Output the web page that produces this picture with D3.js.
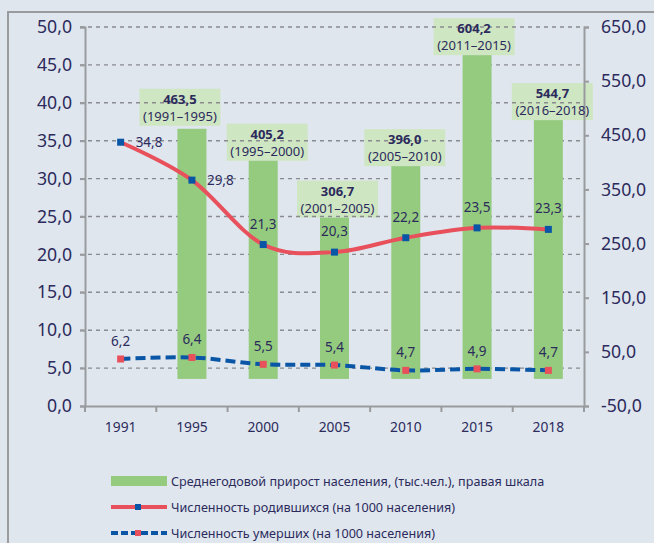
<!DOCTYPE html>
<html>
<head>
<meta charset="utf-8">
<script src="https://cdn.jsdelivr.net/npm/d3@7"></script>
<style>
  body { margin: 0; background: #dfe6ee; }
  svg { display: block; font-family: "Noto Sans", sans-serif; }
</style>
</head>
<body>
<svg width="654" height="543"></svg>
<script>
// datos
var anios = ['1991', '1995', '2000', '2005', '2010', '2015', '2018'];
var nacimientos = [34.8, 29.8, 21.3, 20.3, 22.2, 23.5, 23.3];
var defunciones = [6.2, 6.4, 5.5, 5.4, 4.7, 4.9, 4.7];
var posNacim = ['right', 'right', 'above', 'above', 'above', 'above', 'above'];
var barAnios = ['1995', '2000', '2005', '2010', '2015', '2018'];
var barValores = [462, 403, 298, 393, 598, 478];
var barEtiquetas = ['463,5', '405,2', '306,7', '396,0', '604,2', '544,7'];
var barPeriodos = ['(1991–1995)', '(1995–2000)', '(2001–2005)', '(2005–2010)', '(2011–2015)', '(2016–2018)'];
var ticksIzq = [0, 5, 10, 15, 20, 25, 30, 35, 40, 45, 50];
var ticksDer = [-50, 50, 150, 250, 350, 450, 550, 650];
var leyenda = [
  'Среднегодовой прирост населения, (тыс.чел.), правая шкала',
  'Численность родившихся (на 1000 населения)',
  'Численность умерших (на 1000 населения)'
];

// desplazamiento manual de las cajas de etiquetas (como en el original)
var ajusteCaja = [[-12, -3], [4, 0], [3, 0], [-1, 0], [-3, 0], [4, 0]];

var colTexto = '#2c2b5c', colGris = '#9a9b9e', colBarra = '#95cb7f', colCaja = '#cfe6c3';
var colRojo = '#e8505b', colAzul = '#0a56a6';

var svg = d3.select('svg'),
    margin = {top: 27, right: 70, bottom: 137, left: 85},
    width = +svg.attr('width') - margin.left - margin.right,
    height = +svg.attr('height') - margin.top - margin.bottom;

function fmt(v) { return d3.format('.1f')(v).replace('.', ',').replace('−', '-'); }

// marco
svg.append('path')
    .attr('d', 'M8,543 V12 H654')
    .attr('fill', 'none')
    .attr('stroke', colGris)
    .attr('stroke-width', 2);

var g = svg.append('g').attr('transform', 'translate(' + margin.left + ',' + margin.top + ')');

var x = d3.scaleBand().domain(anios).range([0, width]).padding(0);
var yIzq = d3.scaleLinear().domain([0, 50]).range([height, 0]);
var yDer = d3.scaleLinear().domain([-50, 650]).range([height, 0]);

var centroBarra = function(i) { return x(barAnios[i]) + x.bandwidth() / 2; };

// cajas de etiquetas de las barras
var cajaW = 81, cajaH = 37;
g.selectAll('.caja')
  .data(barValores)
  .enter().append('rect')
    .attr('x', function(d, i) { return centroBarra(i) + ajusteCaja[i][0] - cajaW / 2; })
    .attr('y', function(d, i) { return yDer(d) - cajaH + ajusteCaja[i][1]; })
    .attr('width', cajaW)
    .attr('height', cajaH)
    .attr('fill', colCaja);

// lineas de cuadricula
g.selectAll('.grid')
  .data(ticksIzq.filter(function(t) { return t > 0; }))
  .enter().append('line')
    .attr('x1', -5).attr('x2', width)
    .attr('y1', function(d) { return yIzq(d); })
    .attr('y2', function(d) { return yIzq(d); })
    .attr('stroke', '#8a8b90')
    .attr('stroke-width', 1.4)
    .attr('stroke-dasharray', '4,4');

// barras
var barW = 29;
g.selectAll('.barra')
  .data(barValores)
  .enter().append('rect')
    .attr('x', function(d, i) { return centroBarra(i) - barW / 2; })
    .attr('y', function(d) { return yDer(d); })
    .attr('width', barW)
    .attr('height', function(d) { return yDer(0) - yDer(d); })
    .attr('fill', colBarra);

// ejes
var ejeIzq = g.append('g')
    .call(d3.axisLeft(yIzq).tickValues(ticksIzq).tickSize(5).tickPadding(8).tickFormat(fmt));
var ejeDer = g.append('g')
    .attr('transform', 'translate(' + width + ',0)')
    .call(d3.axisRight(yDer).tickValues(ticksDer).tickSize(5).tickPadding(12).tickFormat(fmt));
var ejeX = g.append('g')
    .attr('transform', 'translate(0,' + height + ')')
    .call(d3.axisBottom(x).tickSize(0).tickPadding(16));

// marcas entre categorias
g.selectAll('.sep')
  .data(d3.range(anios.length + 1))
  .enter().append('line')
    .attr('x1', function(i) { return i * x.bandwidth(); })
    .attr('x2', function(i) { return i * x.bandwidth(); })
    .attr('y1', height).attr('y2', height + 6)
    .attr('stroke', colGris).attr('stroke-width', 2);

[ejeIzq, ejeDer, ejeX].forEach(function(e) {
  e.select('.domain').attr('stroke', colGris).attr('stroke-width', 2);
  e.selectAll('.tick line').attr('stroke', colGris).attr('stroke-width', 2);
  e.selectAll('text').attr('fill', colTexto).attr('font-family', '"Noto Sans", sans-serif');
});
ejeIzq.selectAll('text').attr('font-size', 17.7);
ejeDer.selectAll('text').attr('font-size', 17.7);
ejeX.selectAll('text').attr('font-size', 13.8);

// lineas
var cx = function(d, i) { return x(anios[i]) + x.bandwidth() / 2; };
var linea = d3.line()
    .x(cx)
    .curve(d3.curveCardinal.tension(0));

g.append('path')
    .datum(defunciones)
    .attr('d', linea.y(function(d) { return yIzq(d); }))
    .attr('fill', 'none')
    .attr('stroke', colAzul)
    .attr('stroke-width', 4)
    .attr('stroke-dasharray', '10,5');

g.append('path')
    .datum(nacimientos)
    .attr('d', linea.y(function(d) { return yIzq(d); }))
    .attr('fill', 'none')
    .attr('stroke', colRojo)
    .attr('stroke-width', 4);

var m = 7;
g.selectAll('.mNac')
  .data(nacimientos)
  .enter().append('rect')
    .attr('x', function(d, i) { return cx(d, i) - m / 2; })
    .attr('y', function(d) { return yIzq(d) - m / 2; })
    .attr('width', m).attr('height', m)
    .attr('fill', colAzul);

g.selectAll('.mDef')
  .data(defunciones)
  .enter().append('rect')
    .attr('x', function(d, i) { return cx(d, i) - m / 2; })
    .attr('y', function(d) { return yIzq(d) - m / 2; })
    .attr('width', m).attr('height', m)
    .attr('fill', colRojo);

// etiquetas de datos
g.selectAll('.tNac')
  .data(nacimientos)
  .enter().append('text')
    .attr('x', function(d, i) { return posNacim[i] === 'right' ? cx(d, i) + 15 : cx(d, i); })
    .attr('y', function(d, i) { return posNacim[i] === 'right' ? yIzq(d) + 5 : yIzq(d) - 16; })
    .attr('text-anchor', function(d, i) { return posNacim[i] === 'right' ? 'start' : 'middle'; })
    .attr('font-size', 13.5)
    .attr('fill', colTexto)
    .text(fmt);

g.selectAll('.tDef')
  .data(defunciones)
  .enter().append('text')
    .attr('x', cx)
    .attr('y', function(d) { return yIzq(d) - 13; })
    .attr('text-anchor', 'middle')
    .attr('font-size', 13.5)
    .attr('fill', colTexto)
    .text(fmt);

g.selectAll('.tBar')
  .data(barValores)
  .enter().append('text')
    .attr('x', function(d, i) { return centroBarra(i) + ajusteCaja[i][0]; })
    .attr('y', function(d, i) { return yDer(d) - cajaH + ajusteCaja[i][1] + 15; })
    .attr('text-anchor', 'middle')
    .attr('font-size', 13)
    .attr('font-weight', 'bold')
    .attr('fill', colTexto)
    .text(function(d, i) { return barEtiquetas[i]; });

g.selectAll('.tPer')
  .data(barValores)
  .enter().append('text')
    .attr('x', function(d, i) { return centroBarra(i) + ajusteCaja[i][0]; })
    .attr('y', function(d, i) { return yDer(d) + ajusteCaja[i][1] - 5; })
    .attr('text-anchor', 'middle')
    .attr('font-size', 13)
    .attr('fill', colTexto)
    .text(function(d, i) { return barPeriodos[i]; });

// leyenda
var ley = svg.append('g').attr('transform', 'translate(111,0)');
ley.append('rect').attr('x', 0).attr('y', 476).attr('width', 56).attr('height', 10).attr('fill', colBarra);
ley.append('line').attr('x1', 0).attr('x2', 56).attr('y1', 507).attr('y2', 507)
    .attr('stroke', colRojo).attr('stroke-width', 4);
ley.append('rect').attr('x', 24).attr('y', 504).attr('width', 6).attr('height', 6).attr('fill', colAzul);
ley.append('line').attr('x1', 0).attr('x2', 56).attr('y1', 533).attr('y2', 533)
    .attr('stroke', colAzul).attr('stroke-width', 4).attr('stroke-dasharray', '7,3');
ley.append('rect').attr('x', 24).attr('y', 530).attr('width', 6).attr('height', 6).attr('fill', colRojo);

ley.selectAll('.tLey')
  .data(leyenda)
  .enter().append('text')
    .attr('x', 60)
    .attr('y', function(d, i) { return 486 + i * 26; })
    .attr('font-size', 12.6)
    .attr('fill', colTexto)
    .text(function(d) { return d; });
</script>
</body>
</html>
